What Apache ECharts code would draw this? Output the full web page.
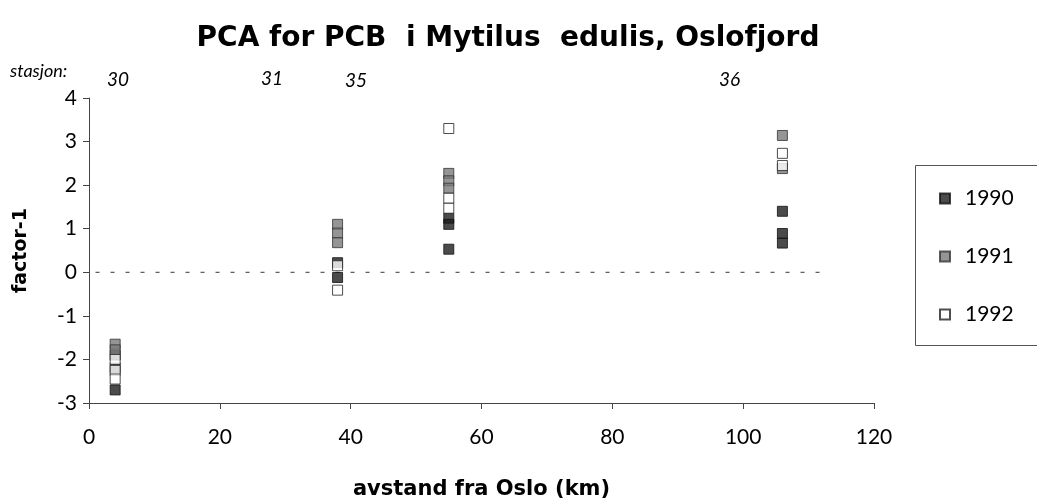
<!DOCTYPE html>
<html>
<head>
<meta charset="utf-8">
<script src="https://cdn.jsdelivr.net/npm/echarts@6/dist/echarts.min.js"></script>
<style>html,body{margin:0;padding:0;background:#fff}#c{width:1037px;height:501px}</style>
</head>
<body>
<div id="c"></div>
<script>
// distance from Oslo (km) for stations 30, 31, 35, 36
var stationNames = ['30', '31', '35', '36'];
var stationKm = [4, 38, 55, 106];
var years = ['1990', '1991', '1992'];
// factor-1 scores per station (index matches stationKm)
var y1990 = [[-1.9, -2.2, -2.7], [0.22, -0.12], [1.24, 1.1, 0.53], [1.4, 0.89, 0.67]];
var y1991 = [[-1.65, -1.78], [1.1, 0.9, 0.68], [2.27, 2.1, 1.93], [3.14, 2.38]];
var y1992 = [[-2.0, -2.25, -2.45], [0.15, -0.41], [3.3, 1.7, 1.47], [2.73, 2.45]];
var zeroLineKm = [1, 112];
var xTicks = [0, 20, 40, 60, 80, 100, 120];
var yTicks = [-3, -2, -1, 0, 1, 2, 3, 4];

function pts(arr) {
  var out = [];
  arr.forEach(function (vals, i) {
    vals.forEach(function (v) { out.push([stationKm[i], v]); });
  });
  return out;
}

var font = 'Lato, "Liberation Sans", sans-serif';
var boldFont = '"DejaVu Sans", sans-serif';
var chart = echarts.init(document.getElementById('c'));
var styles = {
  '1990': { color: '#1e1e1e', borderColor: '#111', borderWidth: 1 },
  '1991': { color: '#7a7a7a', borderColor: '#333', borderWidth: 1 },
  '1992': { color: '#ffffff', borderColor: '#222', borderWidth: 1 }
};
var series = [{
  type: 'line',
  data: zeroLineKm.map(function (k) { return [k, 0]; }),
  symbol: 'none',
  silent: true,
  lineStyle: { color: '#333', width: 1, type: [4, 11] },
  z: 1
}];
[y1990, y1991, y1992].forEach(function (arr, i) {
  series.push({
    name: years[i],
    type: 'scatter',
    symbol: 'rect',
    symbolSize: 10,
    data: pts(arr),
    itemStyle: styles[years[i]],
    z: 2 + i
  });
});

var option = {
  animation: false,
  backgroundColor: '#fff',
  title: {
    text: 'PCA for PCB  i Mytilus  edulis, Oslofjord',
    left: 503, top: 20, textAlign: 'center',
    textStyle: { fontFamily: boldFont, fontWeight: 'bold', fontSize: 28, color: '#000' }
  },
  grid: { left: 89, right: 163, top: 98, bottom: 98, outerBoundsMode: 'none', containLabel: false },
  xAxis: {
    type: 'value', min: 0, max: 120, interval: 20,
    name: 'avstand fra Oslo (km)', nameLocation: 'middle', nameGap: 76,
    nameTextStyle: { fontFamily: boldFont, fontWeight: 'bold', fontSize: 21, color: '#000' },
    axisLine: { onZero: false, lineStyle: { color: '#444', width: 1 } },
    axisTick: { length: 6, lineStyle: { color: '#444' } },
    splitLine: { show: false },
    axisLabel: { fontFamily: font, fontSize: 21, color: '#000', margin: 24 }
  },
  yAxis: {
    type: 'value', min: -3, max: 4, interval: 1,
    name: 'factor-1', nameLocation: 'middle', nameGap: 58, nameRotate: 90,
    nameTextStyle: { fontFamily: boldFont, fontWeight: 'bold', fontSize: 19, color: '#000' },
    axisLine: { show: true, onZero: false, lineStyle: { color: '#444', width: 1 } },
    axisTick: { show: true, length: 6, lineStyle: { color: '#444' } },
    splitLine: { show: false },
    axisLabel: { fontFamily: font, fontSize: 21, color: '#000', margin: 12 }
  },
  legend: {
    orient: 'vertical', left: 934, top: 183, itemGap: 37,
    itemWidth: 10, itemHeight: 10, icon: 'rect',
    data: years,
    textStyle: { fontFamily: font, fontSize: 21, color: '#000', padding: [0, 0, 0, 10] }
  },
  graphic: [
    { type: 'rect', shape: { x: 915.5, y: 165.5, width: 140, height: 180 },
      style: { fill: 'none', stroke: '#555', lineWidth: 1 } },
    { type: 'text', x: 10, y: 62, style: { text: 'stasjon:', font: 'italic 18px ' + font, fill: '#000' } },
    { type: 'text', x: 107, y: 70, style: { text: stationNames[0], font: 'italic 19px ' + font, fill: '#000' } },
    { type: 'text', x: 261, y: 69, style: { text: stationNames[1], font: 'italic 19px ' + font, fill: '#000' } },
    { type: 'text', x: 345, y: 71, style: { text: stationNames[2], font: 'italic 19px ' + font, fill: '#000' } },
    { type: 'text', x: 719, y: 70, style: { text: stationNames[3], font: 'italic 19px ' + font, fill: '#000' } }
  ],
  series: series
};
chart.setOption(option);
</script>
</body>
</html>
